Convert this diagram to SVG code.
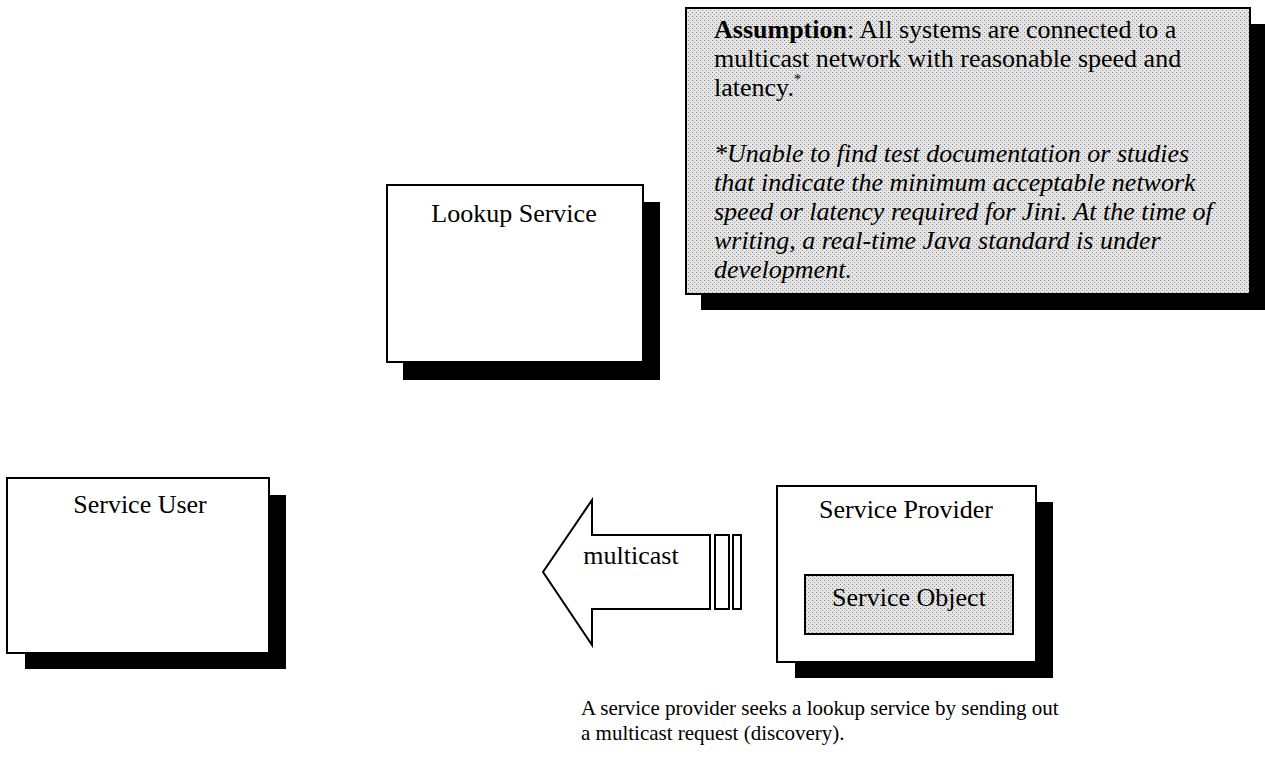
<svg xmlns="http://www.w3.org/2000/svg" width="1265" height="762" viewBox="0 0 1265 762">
<defs>
<pattern id="stip" width="4" height="4" patternUnits="userSpaceOnUse">
<rect width="4" height="4" fill="#e4e4e4"/>
<rect x="0" y="0" width="1" height="1" fill="#8a8a8a"/>
<rect x="2" y="2" width="1" height="1" fill="#a0a0a0"/>
</pattern>
</defs>
<style>
.box{fill:#fff;stroke:#000;stroke-width:2}
.gbox{fill:url(#stip);stroke:#000;stroke-width:2}
.sh{fill:#000}
.lbl{font-family:"Liberation Serif","Times New Roman",serif;font-size:26px;fill:#000}
.note{font-family:"Liberation Serif","Times New Roman",serif;font-size:26px;fill:#000}
.cap{font-family:"Liberation Serif","Times New Roman",serif;font-size:21px;fill:#000}
</style>
<rect width="1265" height="762" fill="#fff"/>

<g id="assumption">
<rect class="sh" x="701" y="24" width="564" height="286"/>
<rect class="gbox" x="686" y="8" width="564" height="286"/>
<text class="note" x="714" y="38"><tspan font-weight="bold">Assumption</tspan>:  All systems are connected to a</text>
<text class="note" x="714" y="67">multicast network with reasonable speed and</text>
<text class="note" x="714" y="96">latency.<tspan font-size="14" dy="-12">*</tspan></text>
<g font-style="italic">
<text class="note" x="714" y="162">*Unable to find test documentation or studies</text>
<text class="note" x="714" y="191">that indicate the minimum acceptable network</text>
<text class="note" x="714" y="220">speed or latency required for Jini. At the time of</text>
<text class="note" x="714" y="249">writing, a real-time Java standard is under</text>
<text class="note" x="714" y="278">development.</text>
</g>
</g>

<g id="lookup">
<rect class="sh" x="403" y="202" width="257" height="178"/>
<rect class="box" x="387" y="185" width="256" height="177"/>
<text class="lbl" x="514" y="222" text-anchor="middle">Lookup Service</text>
</g>

<g id="user">
<rect class="sh" x="25" y="495" width="261" height="174"/>
<rect class="box" x="7" y="478" width="262" height="175"/>
<text class="lbl" x="140" y="513" text-anchor="middle">Service User</text>
</g>

<g id="provider">
<rect class="sh" x="795" y="502" width="258" height="176"/>
<rect class="box" x="777" y="486" width="259" height="176"/>
<text class="lbl" x="906" y="518" text-anchor="middle">Service Provider</text>
<g id="object">
<rect class="gbox" x="805" y="575" width="208" height="59"/>
<text class="lbl" x="909" y="606" text-anchor="middle">Service Object</text>
</g>
</g>

<g id="connectors">
<polygon points="543,572 592,500 592,535 710,535 710,609 592,609 592,645" fill="#fff" stroke="#000" stroke-width="2" stroke-linejoin="miter"/>
<rect x="715" y="535" width="14" height="74" fill="#fff" stroke="#000" stroke-width="2"/>
<rect x="733" y="535" width="8" height="74" fill="#fff" stroke="#000" stroke-width="2"/>
<text class="lbl" x="631" y="564" text-anchor="middle">multicast</text>
</g>

<g id="caption">
<text class="cap" x="581" y="715">A service provider seeks a lookup service by sending out</text>
<text class="cap" x="581" y="740">a multicast request (discovery).</text>
</g>
</svg>
